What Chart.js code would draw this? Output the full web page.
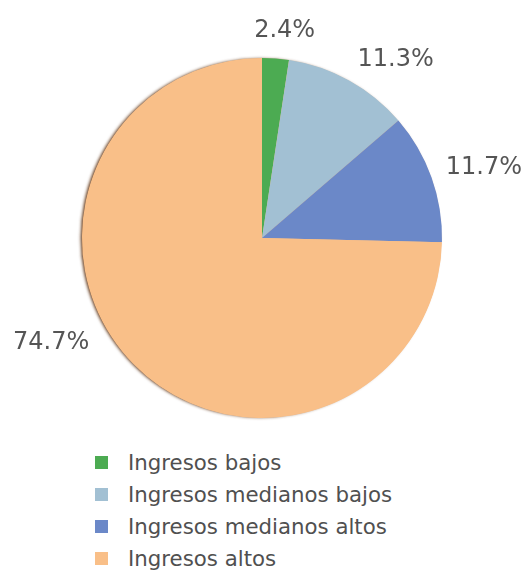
<!DOCTYPE html>
<html><head><meta charset="utf-8">
<script src="https://cdn.jsdelivr.net/npm/chart.js@4"></script>
<style>
html,body{margin:0;padding:0;background:#fff;}
#wrap{position:relative;width:524px;height:577px;}
#c{position:absolute;left:0;top:0;}
#legend{position:absolute;left:95px;top:446px;font-family:"DejaVu Sans",sans-serif;font-size:21.3px;color:#505050;}
.item{height:32px;display:flex;align-items:center;}
.sw{width:13px;height:13px;margin-right:20px;}
</style></head>
<body><div id="wrap"><canvas id="c" width="524" height="440"></canvas><div id="legend"></div></div>
<script>
const categories = ["Ingresos bajos","Ingresos medianos bajos","Ingresos medianos altos","Ingresos altos"];
const shares = [2.4, 11.3, 11.7, 74.7];
const valueLabels = ["2.4%","11.3%","11.7%","74.7%"];
const colors = ["#4cab52","#a2c0d3","#6b88c8","#f9bf88"];

const labelOffsets = [[7,0],[33,4],[26,0],[-62,-41]];

const shadowPlugin = {
  id:'shadow',
  beforeDatasetsDraw(chart){
    const arc=chart.getDatasetMeta(0).data[0]; if(!arc) return;
    const c=chart.ctx;c.save();
    c.shadowColor='rgba(90,45,10,0.85)';c.shadowBlur=3;c.shadowOffsetX=-2;c.shadowOffsetY=0;
    c.beginPath();c.arc(arc.x,arc.y,arc.outerRadius-0.5,0,Math.PI*2);c.fillStyle=colors[3];c.fill();
    c.restore();
  }
};
const labelPlugin = {
  id:'outLabels',
  afterDraw(chart){
    const c=chart.ctx; const meta=chart.getDatasetMeta(0);
    c.save(); c.font='24px "DejaVu Sans", sans-serif'; c.fillStyle='#555555';
    c.textAlign='center'; c.textBaseline='middle';
    meta.data.forEach((arc,i)=>{
      const mid=(arc.startAngle+arc.endAngle)/2; const r=arc.outerRadius+28;
      const x=arc.x+Math.cos(mid)*r+labelOffsets[i][0];
      const y=arc.y+Math.sin(mid)*r+labelOffsets[i][1];
      c.fillText(valueLabels[i],x,y);
    });
    c.restore();
  }
};
new Chart(document.getElementById('c'),{
  type:'pie',
  data:{labels:categories,datasets:[{data:shares,backgroundColor:colors,borderWidth:0}]},
  options:{responsive:false,animation:false,
    layout:{padding:{top:58,bottom:22,left:0,right:0}},
    plugins:{legend:{display:false},tooltip:{enabled:false}}},
  plugins:[shadowPlugin,labelPlugin]
});
const lg=document.getElementById('legend');
categories.forEach((n,i)=>{const d=document.createElement('div');d.className='item';
  d.innerHTML='<span class="sw" style="background:'+colors[i]+'"></span><span>'+n+'</span>';lg.appendChild(d);});
</script></body></html>
